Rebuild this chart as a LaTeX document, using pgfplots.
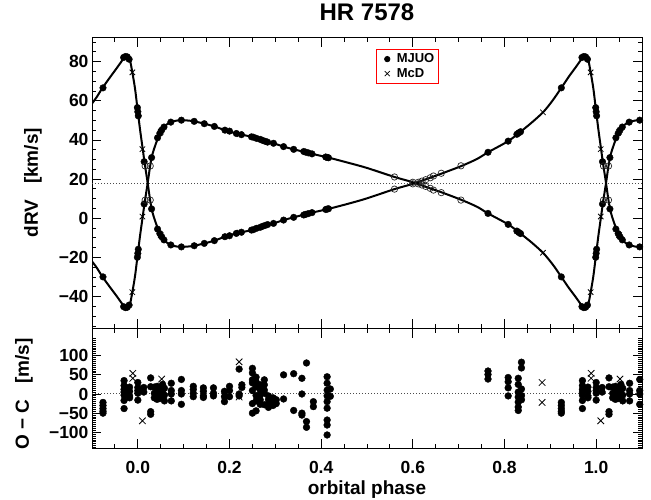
\documentclass[border=0pt]{standalone}
\usepackage{pgfplots}
\pgfplotsset{compat=1.18}
\usepackage{fontspec}
\setmainfont{Liberation Sans}

\pgfplotsset{
  rvbase/.style={
    scale only axis, width=550pt, xmin=-0.1, xmax=1.1,
    axis line style={line width=1pt},
    tick style={line width=0.9pt, black},
    major tick length=9.5pt, minor tick length=4.5pt,
    xtick={0,0.2,0.4,0.6,0.8,1.0},
    minor xtick={-0.05,0.05,0.1,0.15,0.25,0.3,0.35,0.45,0.5,0.55,0.65,0.7,0.75,0.85,0.9,0.95,1.05},
    yticklabel style={font=\bfseries\fontsize{17.5}{17.5}\selectfont},
    xticklabel style={font=\bfseries\fontsize{17.5}{17.5}\selectfont},
    clip=true,
  },
  dotline/.style={dash pattern=on 1pt off 2pt, line width=1pt, black!70},
  fdot/.style={only marks, mark=*, mark size=3.3pt, mark options={fill=black, draw=black}},
  odot/.style={only marks, mark=o, mark size=3.2pt, mark options={draw=black!85, line width=0.7pt}},
  mcd/.style={only marks, mark=x, mark size=3.8pt, mark options={line width=0.8pt, draw=black}},
}

\begin{document}
\begin{tikzpicture}
\path[use as bounding box] (0pt,0pt) rectangle (651pt,-500pt);

% ---------------- top panel ----------------
\begin{axis}[rvbase,
  at={(92pt,-37.5pt)}, anchor=north west, height=290.5pt,
  ymin=-56, ymax=92.3,
  xticklabels={},
  ytick={-40,-20,0,20,40,60,80},
  yticklabels={−40,−20,0,20,40,60,80},
  minor ytick={-55,-50,-45,-35,-30,-25,-15,-10,-5,5,10,15,25,30,35,45,50,55,65,70,75,85,90},
  title={HR 7578},
  title style={font=\bfseries\fontsize{24}{24}\selectfont, at={(rel axis cs:0.5,1)}, anchor=base, yshift=10.8pt},
  ylabel={dRV\ \ \ [km/s]},
  ylabel style={font=\bfseries\fontsize{19}{19}\selectfont, at={(rel axis cs:-0.1073,0.5)}, anchor=center},
  legend style={at={(rel axis cs:0.5165,0.9600)}, anchor=north west, draw=red, line width=0.8pt,
    font=\bfseries\fontsize{13}{13}\selectfont, inner sep=2.3pt, row sep=0pt,
    cells={anchor=west}},
  legend image code/.code={\draw[draw=none, fill=none] (0pt,0pt) -- (16pt,0pt); \draw[#1] plot coordinates {(8.5pt,0pt)};},
]
\addlegendimage{only marks, mark=*, mark size=2.7pt, black}
\addlegendentry{MJUO}
\addlegendimage{only marks, mark=x, mark size=3.6pt, mark options={line width=0.8pt}, black}
\addlegendentry{McD}

\addplot[dotline, forget plot] coordinates {(-0.1,17.9) (1.1,17.9)};

% orbit curve, component A
\addplot[smooth, line width=2pt, black, forget plot] coordinates {
(-0.100,58.6) (-0.090,61.8) (-0.077,66.6) (-0.060,72.2) (-0.045,77.0) (-0.035,80.3)
(-0.028,82.6) (-0.022,82.3) (-0.017,80.5) (-0.012,74.5) (-0.006,66.0) (0.000,54.4)
(0.005,45.0) (0.010,36.5) (0.015,28.0) (0.0215,18.0) (0.027,9.0) (0.032,3.0)
(0.038,-1.5) (0.045,-6.0) (0.052,-9.4) (0.060,-11.8) (0.072,-13.6) (0.085,-14.4)
(0.095,-14.6) (0.110,-14.4) (0.123,-14.0) (0.145,-12.8) (0.167,-11.4) (0.190,-9.4)
(0.215,-7.7) (0.250,-5.9) (0.280,-3.6) (0.300,-2.3) (0.318,-0.9) (0.340,0.5)
(0.360,1.7) (0.380,2.9) (0.414,4.7) (0.460,7.5) (0.500,10.2) (0.560,14.9)
(0.600,17.6) (0.640,20.9) (0.660,22.6) (0.705,26.6) (0.740,30.3) (0.764,33.7)
(0.808,39.4) (0.835,44.2) (0.860,49.0) (0.884,54.1) (0.900,58.6) (0.910,61.8)
(0.924,66.6) (0.940,72.2) (0.955,77.0) (0.965,80.3) (0.972,82.6) (0.978,82.3)
(0.983,80.5) (0.988,74.5) (0.994,66.0) (1.000,54.4) (1.005,45.0) (1.010,36.5)
(1.015,28.0) (1.0215,18.0) (1.027,9.0) (1.032,3.0) (1.038,-1.5) (1.045,-6.0)
(1.052,-9.4) (1.060,-11.8) (1.072,-13.6) (1.085,-14.4) (1.095,-14.6) (1.100,-14.6)
};
% orbit curve, component B
\addplot[smooth, line width=2pt, black, forget plot] coordinates {
(-0.100,-22.0) (-0.090,-25.1) (-0.077,-29.9) (-0.060,-35.4) (-0.045,-40.1) (-0.035,-43.4)
(-0.028,-45.6) (-0.022,-45.3) (-0.017,-43.6) (-0.012,-37.7) (-0.006,-29.3) (0.000,-17.9)
(0.005,-8.6) (0.010,-0.2) (0.015,8.2) (0.0215,18.0) (0.027,26.9) (0.032,32.8)
(0.038,37.2) (0.045,41.6) (0.052,45.0) (0.060,47.4) (0.072,49.1) (0.085,49.9)
(0.095,50.1) (0.110,49.9) (0.123,49.5) (0.145,48.3) (0.167,46.9) (0.190,45.0)
(0.215,43.3) (0.250,41.5) (0.280,39.3) (0.300,38.0) (0.318,36.6) (0.340,35.2)
(0.360,34.1) (0.380,32.9) (0.414,31.1) (0.460,28.3) (0.500,25.7) (0.560,21.1)
(0.600,18.4) (0.640,15.1) (0.660,13.5) (0.705,9.5) (0.740,5.9) (0.764,2.5)
(0.808,-3.1) (0.835,-7.8) (0.860,-12.5) (0.884,-17.6) (0.900,-22.0) (0.910,-25.1)
(0.924,-29.9) (0.940,-35.4) (0.955,-40.1) (0.965,-43.4) (0.972,-45.6) (0.978,-45.3)
(0.983,-43.6) (0.988,-37.7) (0.994,-29.3) (1.000,-17.9) (1.005,-8.6) (1.010,-0.2)
(1.015,8.2) (1.0215,18.0) (1.027,26.9) (1.032,32.8) (1.038,37.2) (1.045,41.6)
(1.052,45.0) (1.060,47.4) (1.072,49.1) (1.085,49.9) (1.095,50.1) (1.100,50.1)
};

% MJUO measurements (filled)
\addplot[fdot, forget plot] coordinates {
(-0.001,56.5) (0.000,54.4) (0.001,52.3) (-0.001,-19.9) (0.000,-17.9) (0.001,-15.8)
(0.999,56.5) (1.000,54.4) (1.001,52.3) (0.999,-19.9) (1.000,-17.9) (1.001,-15.8)
(0.0138,28.9) (0.0138,7.3) (1.0138,28.9) (1.0138,7.3)
(0.030,4.8) (0.030,31.0) (1.030,4.8) (1.030,31.0)
(0.043,-5.5) (0.043,41.1) (1.043,-5.5) (1.043,41.1)
(0.048,-7.8) (0.048,43.4) (1.048,-7.8) (1.048,43.4)
(0.052,-9.4) (0.052,45.0) (1.052,-9.4) (1.052,45.0)
(0.057,-11.0) (0.057,46.6) (1.057,-11.0) (1.057,46.6)
(0.072,-13.6) (0.072,49.1) (1.072,-13.6) (1.072,49.1)
(0.095,-14.6) (0.095,50.1) (1.095,-14.6) (1.095,50.1)
(0.123,-14.0) (0.123,49.5) (0.145,-12.8) (0.145,48.3)
(0.167,-11.4) (0.167,46.9) (0.190,-9.4) (0.190,45.0)
(0.200,-8.9) (0.200,44.5) (0.215,-7.7) (0.215,43.3)
(0.226,-7.1) (0.226,42.7) (0.248,-6.0) (0.248,41.6)
(0.252,-5.8) (0.252,41.4) (0.259,-5.1) (0.259,40.8)
(0.267,-4.6) (0.267,40.3) (0.272,-4.1) (0.272,39.8)
(0.278,-3.6) (0.278,39.3) (0.283,-3.2) (0.283,38.9)
(0.296,-2.6) (0.296,38.3) (0.318,-0.9) (0.318,36.6)
(0.340,0.5) (0.340,35.2) (0.362,1.7) (0.362,34.1)
(0.366,2.0) (0.366,33.8) (0.372,2.4) (0.372,33.4)
(0.380,2.9) (0.380,32.9) (0.410,4.5) (0.410,31.3)
(0.413,4.7) (0.413,31.1) (0.416,4.9) (0.416,30.9)
(0.764,33.7) (0.764,2.5) (0.808,39.4) (0.808,-3.1)
(0.827,42.9) (0.827,-6.5) (0.831,43.6) (0.831,-7.2) (0.835,44.2) (0.835,-7.8)
(0.924,66.6) (0.924,-29.9) (-0.076,66.6) (-0.076,-29.9)
(0.969,82.1) (0.969,-45.1) (-0.031,82.1) (-0.031,-45.1)
(0.973,82.6) (0.973,-45.6) (-0.027,82.6) (-0.027,-45.6)
(0.977,82.4) (0.977,-45.4) (-0.023,82.4) (-0.023,-45.4)
(0.981,81.2) (0.981,-44.3) (-0.019,81.2) (-0.019,-44.3)
};
% MJUO measurements (open)
\addplot[odot, forget plot] coordinates {
(0.016,26.7) (0.016,9.3) (0.027,9.3) (0.027,26.7)
(1.016,26.7) (1.016,9.3) (1.027,9.3) (1.027,26.7)
(0.560,14.9) (0.560,21.1) (0.600,17.6) (0.600,18.4)
(0.612,18.4) (0.612,17.6) (0.620,19.0) (0.620,17.0)
(0.628,19.7) (0.628,16.3) (0.638,20.7) (0.638,15.3)
(0.645,21.6) (0.645,14.4) (0.662,23.0) (0.662,13.1)
(0.705,26.8) (0.705,9.3)
};
% McD measurements
\addplot[mcd, forget plot] coordinates {
(0.988,74.5) (0.988,-37.7) (-0.012,74.5) (-0.012,-37.7)
(0.010,35.3) (0.010,0.9) (1.010,35.3) (1.010,0.9)
(0.050,-8.6) (0.050,44.2) (1.050,-8.6) (1.050,44.2)
(0.222,-7.3) (0.222,42.9) (0.884,54.1) (0.884,-17.6)
};
\end{axis}

% ---------------- bottom panel ----------------
\begin{axis}[rvbase,
  at={(92pt,-328pt)}, anchor=north west, height=120.3pt,
  ymin=-141.8, ymax=172.3,
  xticklabels={0.0,0.2,0.4,0.6,0.8,1.0},
  xticklabel style={anchor=base, yshift=-25pt},
  ytick={-100,-50,0,50,100},
  yticklabels={−100,−50,0,50,100},
  minor ytick={-140,-135,...,145},
  xlabel={orbital phase},
  xlabel style={font=\bfseries\fontsize{19}{19}\selectfont, at={(rel axis cs:0.5,0)}, anchor=base, yshift=-45.7pt},
  ylabel={O − C\ \ \ [m/s]},
  ylabel style={font=\bfseries\fontsize{19}{19}\selectfont, at={(rel axis cs:-0.1236,0.452)}, anchor=center},
]
\addplot[dotline] coordinates {(-0.1,0) (1.1,0)};
\addplot[fdot, mark size=3.4pt] coordinates {
(0.000,30) (0.000,17) (0.000,9) (0.000,2) (0.000,-16)
(1.000,30) (1.000,17) (1.000,9) (1.000,2) (1.000,-16)
(0.013,17) (0.013,5) (1.013,17) (1.013,5)
(0.028,42) (0.028,19) (0.028,-46) (0.028,-53)
(1.028,42) (1.028,19) (1.028,-46) (1.028,-53)
(0.036,18) (0.036,2) (0.036,-10) (1.036,18) (1.036,2) (1.036,-10)
(0.042,20) (0.042,5) (0.042,-8) (0.042,-14) (1.042,20) (1.042,5) (1.042,-8) (1.042,-14)
(0.048,12) (0.048,0) (0.048,-12) (1.048,12) (1.048,0) (1.048,-12)
(0.054,25) (0.054,8) (0.054,-5) (1.054,25) (1.054,8) (1.054,-5)
(0.058,15) (0.058,-3) (0.058,-18) (1.058,15) (1.058,-3) (1.058,-18)
(0.073,28) (0.073,9) (0.073,0) (0.073,-18) (1.073,28) (1.073,9) (1.073,0) (1.073,-18)
(0.095,38) (0.095,9) (0.095,0) (0.095,-27) (1.095,38) (1.095,9) (1.095,0) (1.095,-27)
(0.121,20) (0.121,12) (0.121,2) (0.121,-7)
(0.143,16) (0.143,7) (0.143,-5) (0.143,-9)
(0.165,16) (0.165,2) (0.165,-5)
(0.189,7) (0.189,-7) (0.189,-20)
(0.200,20) (0.200,9) (0.200,-7)
(0.221,65) (0.221,0) (0.221,-5)
(0.227,24) (0.227,17)
(0.250,67) (0.250,55) (0.250,37) (0.250,29) (0.250,9) (0.250,-25) (0.250,-50)
(0.258,44) (0.258,32) (0.258,19) (0.258,-4) (0.258,-18) (0.258,-44)
(0.267,24) (0.267,10) (0.267,-2) (0.267,-15) (0.267,-27)
(0.276,37) (0.276,24) (0.276,10) (0.276,2) (0.276,-28)
(0.285,-5) (0.285,-15) (0.285,-27) (0.285,-35)
(0.295,-10) (0.295,-22) (0.295,-30)
(0.302,-15) (0.302,-25)
(0.318,50) (0.318,-13)
(0.340,53) (0.340,-43)
(0.358,41) (0.358,0) (0.358,-50) (0.358,-55)
(0.368,81) (0.368,-72) (0.368,-87)
(0.383,-20) (0.383,-33)
(0.413,45) (0.413,28) (0.413,10) (0.413,-5) (0.413,-20) (0.413,-37) (0.413,-68) (0.413,-81) (0.413,-107)
(0.420,13) (0.420,-6)
(0.764,60) (0.764,51) (0.764,39)
(0.808,43) (0.808,32) (0.808,16) (0.808,-5)
(0.830,41) (0.830,25) (0.830,5) (0.830,-8) (0.830,-21) (0.830,-34) (0.830,-43)
(0.837,83) (0.837,68) (0.837,13) (0.837,-4) (0.837,-15)
(0.924,-22) (0.924,-30) (0.924,-38) (0.924,-45) (0.924,-50)
(-0.076,-22) (-0.076,-30) (-0.076,-38) (-0.076,-45) (-0.076,-50)
(0.970,35) (0.970,22) (0.970,12) (0.970,5) (0.970,-3) (0.970,-17) (0.970,-38)
(-0.030,35) (-0.030,22) (-0.030,12) (-0.030,5) (-0.030,-3) (-0.030,-17) (-0.030,-38)
(0.982,18) (0.982,7) (0.982,-5) (0.982,-10)
(-0.018,18) (-0.018,7) (-0.018,-5) (-0.018,-10)
};
\addplot[mcd, mark size=4.6pt] coordinates {
(0.989,54) (0.989,41) (-0.011,54) (-0.011,41)
(0.010,-70) (1.010,-70)
(0.052,39) (1.052,39)
(0.221,84) (0.221,-8)
(0.882,30) (0.882,-22)
};
\end{axis}
\end{tikzpicture}
\end{document}
